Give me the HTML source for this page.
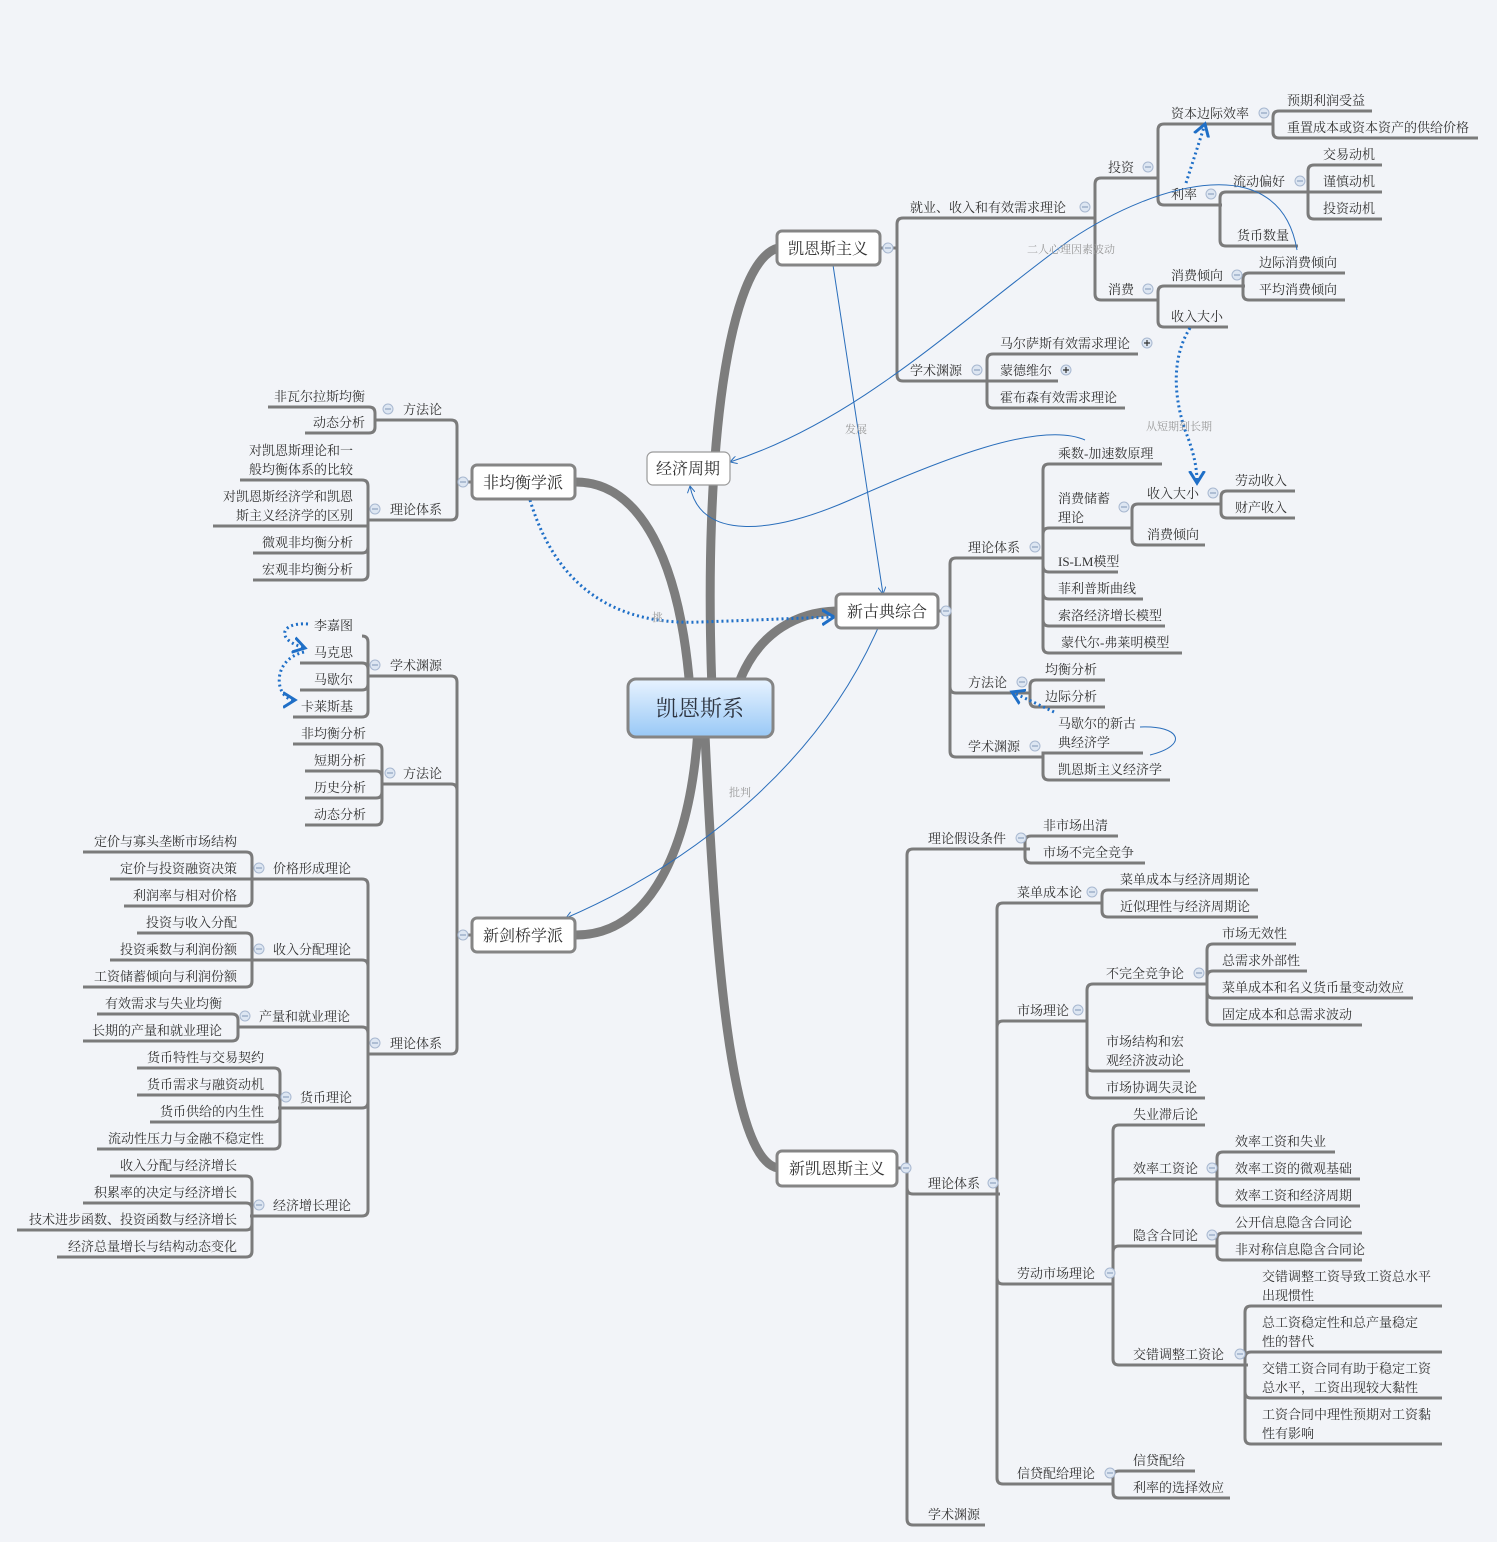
<!DOCTYPE html>
<html><head><meta charset="utf-8">
<style>
html,body{margin:0;padding:0;background:#f2f4f8;}
svg{display:block;}
text{font-family:"Liberation Serif","Noto Serif CJK SC",serif;font-size:13px;fill:#333;}
.lbl{font-size:11px;fill:#999;}
</style></head>
<body>
<svg id="s" width="1497" height="1542" xmlns="http://www.w3.org/2000/svg">
<defs>
<linearGradient id="g" x1="0" y1="0" x2="0" y2="1"><stop offset="0" stop-color="#e8f3ff"/><stop offset="1" stop-color="#98c8f6"/></linearGradient>
<marker id="a" markerWidth="8" markerHeight="8" refX="7" refY="4" orient="auto"><path d="M0,0 L7,4 L0,8" fill="none" stroke="#2a6ebb" stroke-width="1"/></marker>
<marker id="ad" markerWidth="6" markerHeight="6" refX="4" refY="3" orient="auto" markerUnits="strokeWidth"><path d="M0,0.5 L4,3 L0,5.5" fill="none" stroke="#1f6fc7" stroke-width="1"/></marker>
</defs>
<g id="branches" fill="none" stroke="#7d7d7d" stroke-linecap="round">
<path d="M712 690 C703 450 728 262 778 248" stroke-width="9"/>
<path d="M690 690 C680 560 640 482 576 482" stroke-width="9"/>
<path d="M698 730 C690 850 650 935 576 935" stroke-width="9"/>
<path d="M705 735 C715 950 730 1160 778 1168" stroke-width="9"/>
<path d="M740 680 C760 630 800 612 836 611" stroke-width="9"/>
</g>
<g id="tree" fill="none" stroke="#7b7b7b" stroke-width="3"></g>
<g id="txt"></g>
<g id="rel" fill="none">
<path d="M833 265 L883 594" stroke="#2a6ebb" stroke-width="1" marker-end="url(#a)"/>
<path d="M878 628 C820 760 700 860 566 918" stroke="#2a6ebb" stroke-width="1" marker-end="url(#a)"/>
<path d="M530 500 C560 600 630 625 700 622 C760 620 800 618 834 617" stroke="#1f6fc7" stroke-width="3" stroke-dasharray="2 3" marker-end="url(#ad)"/>
<path d="M1297 250 C1280 150 1160 180 1070 240 C960 320 860 420 730 462" stroke="#2a6ebb" stroke-width="1" marker-end="url(#a)"/>
<path d="M1085 440 C1040 420 940 460 850 500 C770 535 700 540 690 486" stroke="#2a6ebb" stroke-width="1" marker-end="url(#a)"/>
<path d="M1186 183 L1205 124" stroke="#1f6fc7" stroke-width="3" stroke-dasharray="2 3" marker-end="url(#ad)"/>
<path d="M1190 328 C1170 360 1175 400 1185 430 C1195 455 1197 470 1197 483" stroke="#1f6fc7" stroke-width="3" stroke-dasharray="2 3" marker-end="url(#ad)"/>
<path d="M1054 712 L1012 692" stroke="#1f6fc7" stroke-width="3" stroke-dasharray="2 3" marker-end="url(#ad)"/>
<path d="M1140 727 C1180 725 1190 745 1150 755" stroke="#2a6ebb" stroke-width="1"/>
<path d="M308 624 C280 622 275 640 305 648" stroke="#1f6fc7" stroke-width="3" stroke-dasharray="2 3" marker-end="url(#ad)"/>
<path d="M304 652 C270 660 275 700 295 700" stroke="#1f6fc7" stroke-width="3" stroke-dasharray="2 3" marker-end="url(#ad)"/>
</g>
<g id="rl">
<text class="lbl" x="845" y="433">发展</text>
<text class="lbl" x="729" y="796">批判</text>
<text class="lbl" x="652" y="621">挑</text>
<text class="lbl" x="1027" y="253">二人心理因素波动</text>
<text class="lbl" x="1146" y="430">从短期到长期</text>
</g>
<g id="boxes">
<rect x="628" y="679" width="145" height="58" rx="8" fill="url(#g)" stroke="#858585" stroke-width="3"/>
<text x="700" y="716" text-anchor="middle" style="font-size:22px;fill:#2d3440">凯恩斯系</text>
<rect x="777" y="231" width="103" height="34" rx="5" fill="#fff" stroke="#858585" stroke-width="3"/>
<text x="828" y="254" text-anchor="middle" style="font-size:16px">凯恩斯主义</text>
<rect x="836" y="594" width="102" height="34" rx="5" fill="#fff" stroke="#858585" stroke-width="3"/>
<text x="887" y="617" text-anchor="middle" style="font-size:16px">新古典综合</text>
<rect x="777" y="1151" width="120" height="35" rx="5" fill="#fff" stroke="#858585" stroke-width="3"/>
<text x="837" y="1174" text-anchor="middle" style="font-size:16px">新凯恩斯主义</text>
<rect x="472" y="465" width="103" height="34" rx="5" fill="#fff" stroke="#858585" stroke-width="3"/>
<text x="523" y="488" text-anchor="middle" style="font-size:16px">非均衡学派</text>
<rect x="472" y="918" width="103" height="34" rx="5" fill="#fff" stroke="#858585" stroke-width="3"/>
<text x="523" y="941" text-anchor="middle" style="font-size:16px">新剑桥学派</text>
<rect x="647" y="452" width="83" height="33" rx="6" fill="#fff" stroke="#9a9a9a" stroke-width="1.2"/>
<text x="688" y="474" text-anchor="middle" style="font-size:16px">经济周期</text>
</g>
</svg>
<script>
var NS="http://www.w3.org/2000/svg";
var tree=document.getElementById('tree'),txt=document.getElementById('txt');
function el(p,tag,a,t){var e=document.createElementNS(NS,tag);for(var k in a)e.setAttribute(k,a[k]);if(t)e.textContent=t;p.appendChild(e);return e;}
function circ(x,y,plus){el(txt,'circle',{cx:x,cy:y,r:5,fill:'#dde6f2',stroke:'#a8b8d0','stroke-width':1});el(txt,'path',{d:'M'+(x-3)+' '+y+'H'+(x+3)+(plus?'M'+x+' '+(y-3)+'V'+(y+3):''),stroke:plus?'#333':'#8fa3c0','stroke-width':1.2});}
function R(px,py,bx,items){
 items.forEach(function(it){
  var cy=it[1],x1=bx+6,x2=it[2];
  var d='M'+px+' '+py+'L'+bx+' '+py;
  if(Math.abs(cy-py)>6){var s=cy>py?1:-1;d+='L'+bx+' '+(cy-6*s)+'Q'+bx+' '+cy+' '+(bx+6)+' '+cy;}else d+='L'+bx+' '+cy;
  d+='L'+x2+' '+cy;
  el(tree,'path',{d:d});
  var ls=typeof it[0]=='string'?[it[0]]:it[0];
  var tx=it[3]||x1+8;
  ls.forEach(function(l,i){el(txt,'text',{x:tx,y:cy-6-(ls.length-1-i)*19},l);});
  if(it[4])circ(it[4][0],cy-11,it[4][1]);
 });
}
function Lf(px,py,bx,items){
 items.forEach(function(it){
  var cy=it[1],x1=it[2];
  var d='M'+px+' '+py+'L'+bx+' '+py;
  if(Math.abs(cy-py)>6){var s=cy>py?1:-1;d+='L'+bx+' '+(cy-6*s)+'Q'+bx+' '+cy+' '+(bx-6)+' '+cy;}else d+='L'+bx+' '+cy;
  d+='L'+x1+' '+cy;
  el(tree,'path',{d:d});
  var ls=typeof it[0]=='string'?[it[0]]:it[0];
  var te=it[3]||bx-14;
  ls.forEach(function(l,i){el(txt,'text',{x:te,y:cy-6-(ls.length-1-i)*19,'text-anchor':'end'},l);});
  if(it[4])circ(it[4][0],cy-11,it[4][1]);
 });
}
function Lp(text,x,y,cx){el(txt,'text',{x:x,y:y-6},text);circ(cx,y-11);}
R(880,248,897,[['就业、收入和有效需求理论',218,1092,910,[1085]],['学术渊源',381,985,910,[977]]]);
R(1092,218,1095,[['投资',178,1158,1108,[1148]],['消费',300,1158,1108,[1148]]]);
R(1158,178,1158,[['资本边际效率',124,1273,1171,[1264]],['利率',205,1222,1171,[1211]]]);
R(1273,124,1273,[['预期利润受益',111,1372,1287],['重置成本或资本资产的供给价格',138,1478,1287]]);
R(1222,205,1220,[['流动偏好',192,1310,1233,[1300]],['货币数量',246,1298,1237]]);
R(1310,192,1308,[['交易动机',165,1382,1323],['谨慎动机',192,1382,1323],['投资动机',219,1382,1323]]);
R(1158,300,1158,[['消费倾向',286,1245,1171,[1237]],['收入大小',327,1228,1171]]);
R(1245,286,1243,[['边际消费倾向',273,1345,1259],['平均消费倾向',300,1345,1259]]);
R(985,381,987,[['马尔萨斯有效需求理论',354,1138,1000,[1147,1]],['蒙德维尔',381,1058,1000,[1066,1]],['霍布森有效需求理论',408,1125,1000]]);
circ(888,248);
R(938,611,950,[['理论体系',558,1043,968,[1035]],['方法论',693,1030,968,[1022]],['学术渊源',757,1043,968,[1035]]]);
circ(946,611);
R(1043,558,1043,[['乘数-加速数原理',464,1162,1058],[['消费储蓄','理论'],528,1132,1058],['IS-LM模型',572,1118,1058],['菲利普斯曲线',599,1143,1058],['索洛经济增长模型',626,1165,1058],['蒙代尔-弗莱明模型',653,1182,1061]]);
circ(1124,507);
R(1132,528,1132,[['收入大小',504,1222,1147,[1213]],['消费倾向',545,1205,1147]]);
R(1222,504,1221,[['劳动收入',491,1295,1235],['财产收入',518,1295,1235]]);
R(1030,693,1030,[['均衡分析',680,1105,1045],['边际分析',707,1105,1045]]);
R(1043,757,1043,[[['马歇尔的新古','典经济学'],753,1143,1058],['凯恩斯主义经济学',780,1170,1058]]);
R(897,1168,907,[['理论假设条件',849,1030,928,[1021]],['理论体系',1194,1000,928,[993]],['学术渊源',1525,985,928]]);
circ(906,1168);
R(1030,849,1025,[['非市场出清',836,1118,1043],['市场不完全竞争',863,1145,1043]]);
R(1000,1194,997,[['菜单成本论',903,1100,1017,[1092]],['市场理论',1021,1080,1017,[1078]],['劳动市场理论',1284,1113,1017,[1110]],['信贷配给理论',1484,1113,1017,[1110]]]);
R(1100,903,1102,[['菜单成本与经济周期论',890,1258,1120],['近似理性与经济周期论',917,1258,1120]]);
R(1080,1021,1087,[['不完全竞争论',984,1207,1106,[1199]],[['市场结构和宏','观经济波动论'],1071,1190,1106],['市场协调失灵论',1098,1205,1106]]);
R(1207,984,1207,[['市场无效性',944,1296,1222],['总需求外部性',971,1307,1222],['菜单成本和名义货币量变动效应',998,1413,1222],['固定成本和总需求波动',1025,1362,1222]]);
R(1113,1284,1113,[['失业滞后论',1125,1205,1133],['效率工资论',1179,1210,1133,[1212]],['隐含合同论',1246,1218,1133,[1212]],['交错调整工资论',1365,1248,1133,[1240]]]);
R(1210,1179,1217,[['效率工资和失业',1152,1335,1235],['效率工资的微观基础',1179,1360,1235],['效率工资和经济周期',1206,1360,1235]]);
R(1218,1246,1217,[['公开信息隐含合同论',1233,1362,1235],['非对称信息隐含合同论',1260,1362,1235]]);
R(1248,1365,1245,[[['交错调整工资导致工资总水平','出现惯性'],1306,1442,1262],[['总工资稳定性和总产量稳定','性的替代'],1352,1442,1262],[['交错工资合同有助于稳定工资','总水平，工资出现较大黏性'],1398,1442,1262],[['工资合同中理性预期对工资黏','性有影响'],1444,1442,1262]]);
R(1113,1484,1113,[['信贷配给',1471,1195,1133],['利率的选择效应',1498,1230,1133]]);
Lf(472,482,457,[['',420,383],['',520,368]]);
circ(463,482);
Lp('方法论',403,420,388);Lp('理论体系',390,520,375);
Lf(383,420,375,[['非瓦尔拉斯均衡',407,268,365],['动态分析',433,305,365]]);
Lf(368,520,368,[[['对凯恩斯理论和一','般均衡体系的比较'],480,240,353],[['对凯恩斯经济学和凯恩','斯主义经济学的区别'],526,213,353],['微观非均衡分析',553,253,353],['宏观非均衡分析',580,253,353]]);
Lf(472,935,457,[['',676,368],['',784,383],['',1054,368]]);
circ(463,935);
Lp('学术渊源',390,676,375);Lp('方法论',403,784,390);Lp('理论体系',390,1054,375);
Lf(368,676,368,[['李嘉图',636,362,353],['马克思',663,300,353],['马歇尔',690,300,353],['卡莱斯基',717,293,353]]);
Lf(383,784,382,[['非均衡分析',744,293,366],['短期分析',771,305,366],['历史分析',798,305,366],['动态分析',825,305,366]]);
Lf(368,1054,368,[['',879,250],['',960,250],['',1027,238],['',1108,278],['',1216,250]]);
Lp('价格形成理论',273,879,259);Lp('收入分配理论',273,960,259);Lp('产量和就业理论',259,1027,245);Lp('货币理论',300,1108,286);Lp('经济增长理论',273,1216,259);
Lf(250,879,252,[['定价与寡头垄断市场结构',852,83,237],['定价与投资融资决策',879,110,237],['利润率与相对价格',906,124,237]]);
Lf(250,960,252,[['投资与收入分配',933,137,237],['投资乘数与利润份额',960,110,237],['工资储蓄倾向与利润份额',987,83,237]]);
Lf(238,1027,238,[['有效需求与失业均衡',1014,97,222],['长期的产量和就业理论',1041,83,222]]);
Lf(278,1108,280,[['货币特性与交易契约',1068,137,264],['货币需求与融资动机',1095,137,264],['货币供给的内生性',1122,150,264],['流动性压力与金融不稳定性',1149,97,264]]);
Lf(250,1216,252,[['收入分配与经济增长',1176,110,237],['积累率的决定与经济增长',1203,83,237],['技术进步函数、投资函数与经济增长',1230,17,237],['经济总量增长与结构动态变化',1257,57,237]]);
</script>
</body></html>
